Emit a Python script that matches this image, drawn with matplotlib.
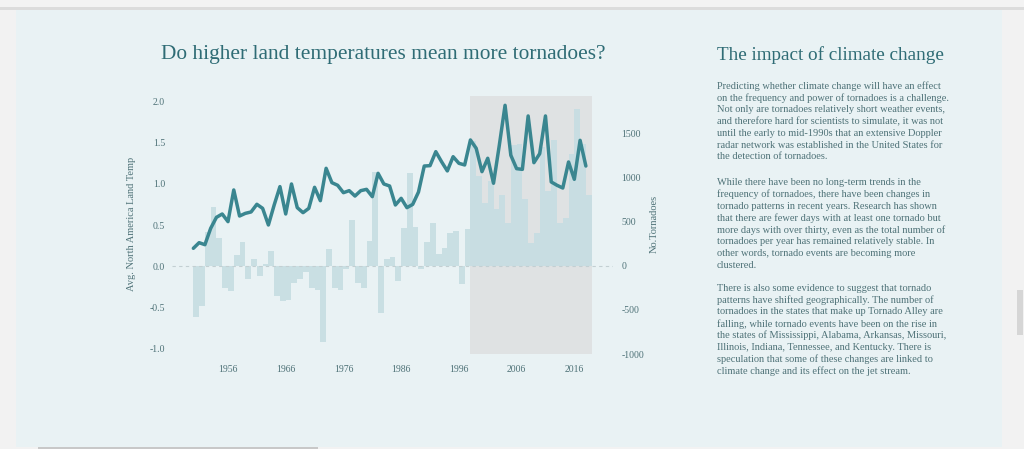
import matplotlib
matplotlib.use("Agg")
import matplotlib.pyplot as plt
from matplotlib.patches import Rectangle

# ---- data ----
years = list(range(1950, 2019))

# avg North America land temperature anomaly (bars, left axis)
land_temp = [-0.62, -0.49, 0.42, 0.72, 0.34, -0.26, -0.30, 0.13, 0.30, -0.16,
             0.09, -0.12, 0.03, 0.19, -0.36, -0.42, -0.41, -0.20, -0.15, -0.07,
             -0.26, -0.29, -0.92, 0.21, -0.27, -0.29, -0.04, 0.56, -0.20, -0.27,
             0.31, 1.14, -0.57, 0.09, 0.11, -0.18, 0.47, 1.13, 0.48, -0.04,
             0.30, 0.53, 0.15, 0.22, 0.40, 0.43, -0.22, 0.45, 1.52, 1.10,
             0.77, 1.04, 0.70, 0.87, 0.52, 1.47, 1.49, 0.82, 0.28, 0.40,
             1.45, 0.91, 1.54, 0.52, 0.58, 1.37, 1.91, 1.49, 0.87]

# number of tornadoes (line, right axis)
tornadoes = [201, 265, 242, 428, 553, 591, 504, 864, 568, 598,
             614, 701, 655, 466, 693, 902, 591, 932, 663, 606,
             655, 894, 742, 1110, 947, 917, 833, 856, 795, 856,
             871, 788, 1053, 932, 909, 693, 769, 663, 700, 840,
             1136, 1140, 1299, 1185, 1080, 1242, 1167, 1148, 1432, 1337,
             1072, 1224, 940, 1370, 1826, 1258, 1106, 1098, 1705, 1174,
             1276, 1705, 955, 917, 886, 1182, 985, 1428, 1136]

xtick_years = [1956, 1966, 1976, 1986, 1996, 2006, 2016]
ytick_left = [-1.0, -0.5, 0.0, 0.5, 1.0, 1.5, 2.0]
ytick_right = [-1000, -500, 0, 500, 1000, 1500]
highlight = (1998, 2019)

title = "Do higher land temperatures mean more tornadoes?"
side_title = "The impact of climate change"
paragraphs = [
    ["Predicting whether climate change will have an effect",
     "on the frequency and power of tornadoes is a challenge.",
     "Not only are tornadoes relatively short weather events,",
     "and therefore hard for scientists to simulate, it was not",
     "until the early to mid-1990s that an extensive Doppler",
     "radar network was established in the United States for",
     "the detection of tornadoes."],
    ["While there have been no long-term trends in the",
     "frequency of tornadoes, there have been changes in",
     "tornado patterns in recent years. Research has shown",
     "that there are fewer days with at least one tornado but",
     "more days with over thirty, even as the total number of",
     "tornadoes per year has remained relatively stable. In",
     "other words, tornado events are becoming more",
     "clustered."],
    ["There is also some evidence to suggest that tornado",
     "patterns have shifted geographically. The number of",
     "tornadoes in the states that make up Tornado Alley are",
     "falling, while tornado events have been on the rise in",
     "the states of Mississippi, Alabama, Arkansas, Missouri,",
     "Illinois, Indiana, Tennessee, and Kentucky. There is",
     "speculation that some of these changes are linked to",
     "climate change and its effect on the jet stream."],
]

W, H = 1024, 449
panel_bg = "#e9f2f4"
teal = "#3a8690"
title_col = "#2f6c75"
text_col = "#4e7277"
plt.rcParams["font.family"] = ["Liberation Serif", "DejaVu Serif"]


def fx(x):
    return x / W


def fy(y):
    return 1 - y / H


def deco(x0, y0, x1, y1, color):
    # rectangle in pixel coords (top-left origin), drawn behind the axes
    fig.add_artist(Rectangle((fx(x0), fy(y1)), fx(x1 - x0), (y1 - y0) / H,
                             transform=fig.transFigure, facecolor=color,
                             edgecolor="none", zorder=-5))


fig = plt.figure(figsize=(W / 100, H / 100), dpi=100)
fig.patch.set_facecolor("#f2f2f2")

# page decoration (screenshot frame)
deco(0, 0, W, 8, "#f3f3f3")
deco(0, 7.5, W, 9.5, "#dcdcdc")
deco(16, 10, 1002, 447, panel_bg)
deco(1017, 290, 1023, 335, "#d6d6d6")
deco(38, 447, 318, 449, "#c8c8c8")

# plot area
left, right, top, bottom = 172, 613, 95.7, 354
ax = fig.add_axes([fx(left), fy(bottom), fx(right - left), (bottom - top) / H])
ax.set_facecolor("none")
ax.set_xlim(1946.3, 2022.7)
ax.set_ylim(-1.068, 2.073)

ax.axvspan(highlight[0], highlight[1], color="#dfe2e3", zorder=0, lw=0)
ax.bar(years, land_temp, width=1.0, align="edge", color="#c6dde2",
       alpha=0.9, zorder=1, linewidth=0)
ax.axhline(0, color="#c3cfd2", lw=0.8, ls=(0, (3, 3)), zorder=1.5)

ax2 = ax.twinx()
ax2.set_ylim(-1000, 1935)
ax2.plot(years, tornadoes, color=teal, lw=2.5, solid_joinstyle="round",
         solid_capstyle="round", zorder=3)

for a in (ax, ax2):
    for s in a.spines.values():
        s.set_visible(False)
    a.tick_params(length=0, labelsize=7, labelcolor=text_col)

ax.set_xticks(xtick_years)
ax.set_xticklabels([str(y) for y in xtick_years])
ax.tick_params(axis="x", pad=8)
ax.set_yticks(ytick_left)
ax.set_yticklabels([f"{v:.1f}" for v in ytick_left])
ax.tick_params(axis="y", pad=5)
ax2.set_yticks(ytick_right)
ax2.set_yticklabels([str(v) for v in ytick_right])
ax2.tick_params(axis="y", pad=6)

fig.text(fx(132), fy(224), "Avg. North America Land Temp", rotation=90,
         ha="center", va="center", fontsize=7.5, color=text_col)
fig.text(fx(654), fy(224), "No.Tornadoes", rotation=90,
         ha="center", va="center", fontsize=7.5, color=text_col)

fig.text(fx(383), fy(54), title, ha="center", va="center",
         fontsize=15.4, color=title_col)
fig.text(fx(717), fy(55), side_title, ha="left", va="center",
         fontsize=13.8, color=title_col)

line_h = 11.8
starts = [86, 182.7, 288.3]
for start, para in zip(starts, paragraphs):
    for k, line in enumerate(para):
        fig.text(fx(717), fy(start + k * line_h), line, ha="left",
                 va="center", fontsize=7.5, color=text_col)

fig.savefig("out.png", dpi=100, facecolor=fig.get_facecolor())
